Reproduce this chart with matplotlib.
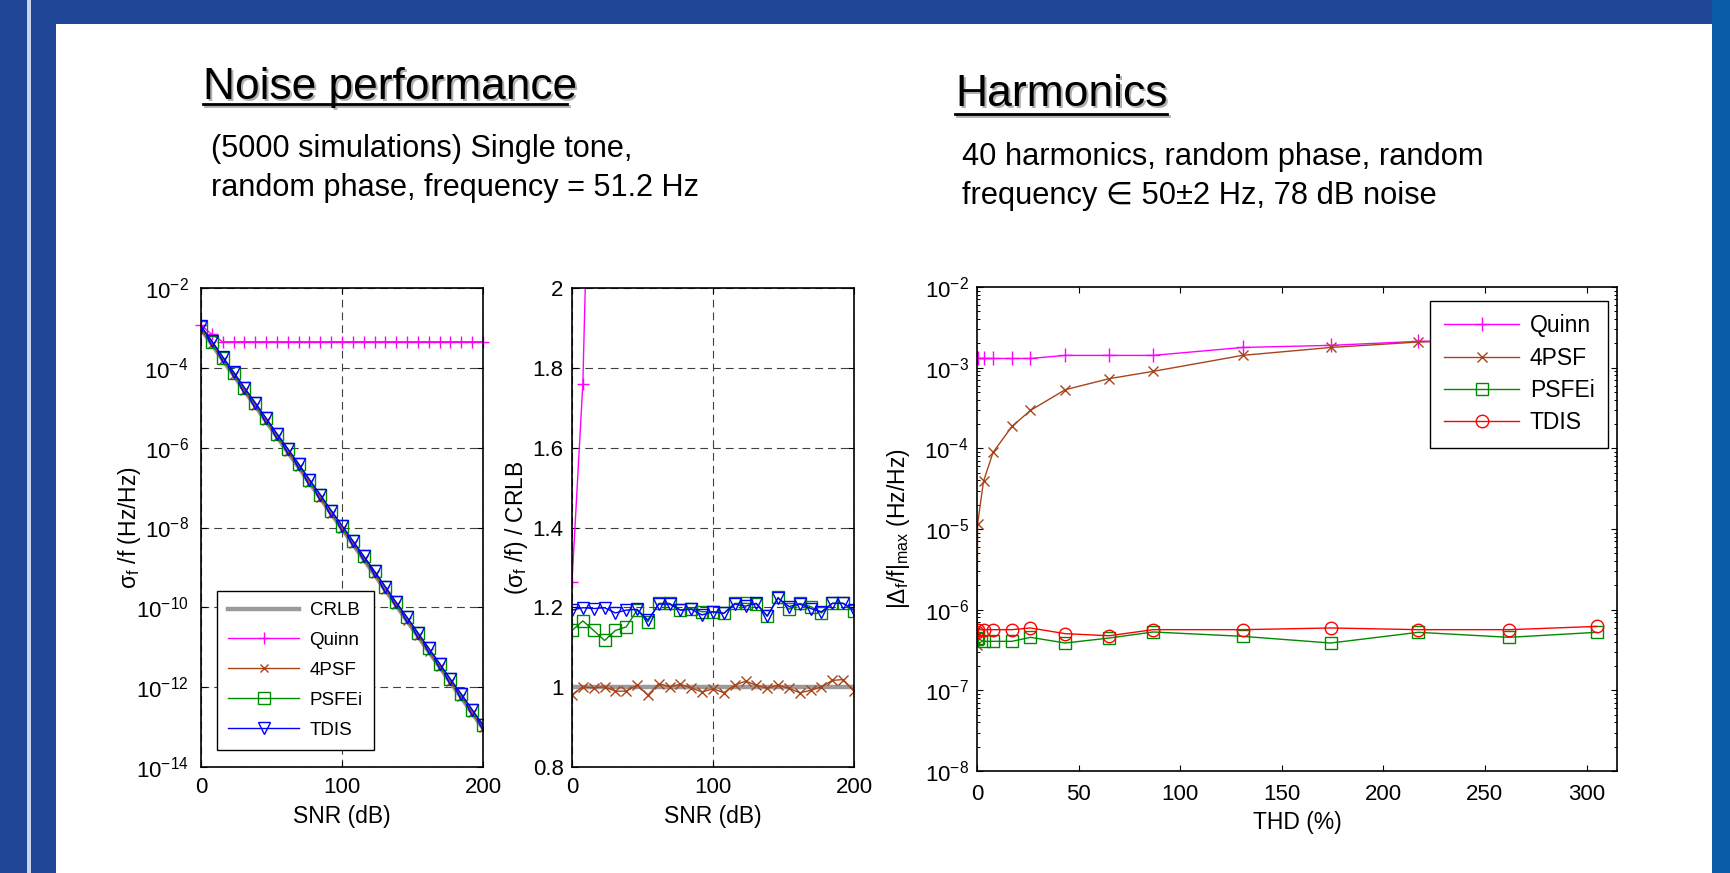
import numpy as np
import matplotlib
matplotlib.use('Agg')
import matplotlib.pyplot as plt
from matplotlib.patches import Rectangle
from matplotlib.lines import Line2D
from matplotlib.ticker import FixedLocator, FuncFormatter, LogLocator, NullFormatter, NullLocator

plt.rcParams['font.family'] = ['Liberation Sans', 'DejaVu Sans']
plt.rcParams['mathtext.fontset'] = 'custom'
plt.rcParams['mathtext.rm'] = 'Liberation Sans'
plt.rcParams['mathtext.it'] = 'Liberation Sans:italic'
plt.rcParams['mathtext.bf'] = 'Liberation Sans:bold'
plt.rcParams['mathtext.sf'] = 'Liberation Sans'

# ---------------- data: noise performance ----------------
snr = [0, 7.69, 15.38, 23.08, 30.77, 38.46, 46.15, 53.85, 61.54, 69.23, 76.92,
       84.62, 92.31, 100, 107.69, 115.38, 123.08, 130.77, 138.46, 146.15,
       153.85, 161.54, 169.23, 176.92, 184.62, 192.31, 200]
crlb_log10 = [-3.03, -3.41, -3.80, -4.18, -4.57, -4.95, -5.34, -5.72, -6.11, -6.49,
              -6.88, -7.26, -7.65, -8.03, -8.41, -8.80, -9.18, -9.57, -9.95, -10.34,
              -10.72, -11.11, -11.49, -11.88, -12.26, -12.65, -13.03]
quinn_noise = [1.18e-3, 6.85e-4, 4.5e-4, 4.5e-4, 4.5e-4, 4.5e-4, 4.5e-4, 4.5e-4, 4.5e-4,
               4.5e-4, 4.5e-4, 4.5e-4, 4.5e-4, 4.5e-4, 4.5e-4, 4.5e-4, 4.5e-4, 4.5e-4,
               4.5e-4, 4.5e-4, 4.5e-4, 4.5e-4, 4.5e-4, 4.5e-4, 4.5e-4, 4.5e-4, 4.5e-4]
ratio_4psf = [0.981, 1.001, 0.998, 1.001, 0.990, 0.990, 1.005, 0.980, 1.009, 1.001,
              1.007, 0.998, 0.988, 0.996, 0.986, 1.005, 1.015, 1.005, 0.997, 1.005,
              0.997, 0.986, 0.992, 1.001, 1.017, 1.019, 0.990]
ratio_psfei = [1.142, 1.166, 1.142, 1.117, 1.142, 1.151, 1.193, 1.164, 1.210, 1.210,
               1.193, 1.197, 1.189, 1.189, 1.185, 1.210, 1.210, 1.208, 1.178, 1.225,
               1.195, 1.210, 1.202, 1.186, 1.210, 1.210, 1.192]
ratio_tdis = [1.193, 1.199, 1.197, 1.199, 1.186, 1.193, 1.195, 1.168, 1.208, 1.208,
              1.193, 1.195, 1.181, 1.189, 1.185, 1.208, 1.203, 1.210, 1.178, 1.223,
              1.202, 1.208, 1.197, 1.189, 1.210, 1.210, 1.193]

# ---------------- data: harmonics ----------------
thd = [0, 0.3, 3.2, 7.9, 17.2, 26.3, 43.4, 65.0, 86.7, 130.7, 174.1, 217.2, 261.9, 305.1]
quinn_h = [1.30e-3, 1.30e-3, 1.30e-3, 1.30e-3, 1.30e-3, 1.30e-3, 1.42e-3, 1.42e-3,
           1.42e-3, 1.78e-3, 1.89e-3, 2.12e-3, 2.2e-3, 2.3e-3]
psf4_h = [3.6e-7, 1.16e-5, 3.9e-5, 8.9e-5, 1.87e-4, 2.95e-4, 5.33e-4, 7.3e-4,
          9.0e-4, 1.42e-3, 1.78e-3, 2.08e-3, 2.2e-3, 2.3e-3]
psfei_h = [4.3e-7, 4.4e-7, 4.05e-7, 4.05e-7, 4.05e-7, 4.54e-7, 3.86e-7, 4.45e-7,
           5.29e-7, 4.67e-7, 3.86e-7, 5.24e-7, 4.54e-7, 5.24e-7]
tdis_h = [5.3e-7, 5.6e-7, 5.65e-7, 5.65e-7, 5.65e-7, 5.93e-7, 5.04e-7, 4.75e-7,
          5.65e-7, 5.65e-7, 5.93e-7, 5.65e-7, 5.65e-7, 6.2e-7]

crlb = 10 ** np.array(crlb_log10)
v4psf = crlb * np.array(ratio_4psf)
vpsfei = crlb * np.array(ratio_psfei)
vtdis = crlb * np.array(ratio_tdis)
quinn_ratio = np.array(quinn_noise) / crlb
crlb_ratio = crlb / crlb

C_MAG = '#ff00ff'
C_BRN = '#a8441a'
C_GRN = '#008a00'
C_BLU = '#0000ff'
C_RED = '#ff0000'
C_GRY = '#9a9a9a'

W, H = 1730, 873
fig = plt.figure(figsize=(W / 100, H / 100), dpi=100, facecolor='#1f4597')

def fx(px):
    return px / W

def fy(py):
    return 1 - py / H

# background decoration
for (x0, y0, w, h, c) in [(fx(27), 0, fx(4), 1, '#c9d3ea'),
                          (fx(1712), 0, fx(18), 1, '#0b5ca8'),
                          (fx(56), 0, fx(1712 - 56), fy(24), 'white')]:
    fig.add_artist(Rectangle((x0, y0), w, h, transform=fig.transFigure,
                             facecolor=c, edgecolor='none', zorder=-10))

# titles
def title(x, ybase, s, size, x1, yline):
    fig.text(fx(x + 2), fy(ybase + 2), s, fontsize=size, color='#b0b0b0', va='baseline', ha='left', zorder=1)
    fig.add_artist(Line2D([fx(x + 2), fx(x1 + 2)], [fy(yline + 2)] * 2, color='#b0b0b0', lw=2.0, zorder=1))
    fig.text(fx(x), fy(ybase), s, fontsize=size, color='k', va='baseline', ha='left', zorder=2)
    fig.add_artist(Line2D([fx(x), fx(x1)], [fy(yline)] * 2, color='k', lw=2.0, zorder=2))

title(203, 99, 'Noise performance', 31.9, 567, 103.5)
title(955, 106, 'Harmonics', 32, 1167, 113.5)

fig.text(fx(211), fy(157), '(5000 simulations) Single tone,', fontsize=22.1, va='baseline')
fig.text(fx(211), fy(196), 'random phase, frequency = 51.2 Hz', fontsize=22.1, va='baseline')
fig.text(fx(962), fy(165.5), '40 harmonics, random phase, random', fontsize=22.2, va='baseline')
fig.text(fx(962), fy(204), 'frequency \u2208 50\u00b12 Hz, 78 dB noise', fontsize=22.2, va='baseline',
         family=['Liberation Sans', 'DejaVu Sans'])

def logfmt(v, pos):
    e = int(round(np.log10(v)))
    return r'$\mathregular{10^{%d}}$' % e

def style(ax, ypad=6):
    ax.tick_params(which='major', direction='in', top=True, right=True, length=4, width=0.8,
                   labelsize=16, colors='k')
    ax.tick_params(axis='x', pad=7)
    ax.tick_params(axis='y', pad=ypad)
    ax.tick_params(which='minor', direction='in', top=True, right=True, length=2.2, width=0.7)
    for sp in ax.spines.values():
        sp.set_linewidth(1.2)
        sp.set_color('k')
    ax.set_facecolor('white')

grid_kw = dict(color='0.25', linestyle=(0, (7, 4.5)), linewidth=0.8)
lw = 1.0

# ---------------- left axes ----------------
ax1 = fig.add_axes([fx(201), fy(767), fx(282), 479 / H])
ax1.set_yscale('log')
l_crlb, = ax1.plot(snr, crlb, color=C_GRY, lw=3.2, label='CRLB')
l_q, = ax1.plot(snr, quinn_noise, color=C_MAG, lw=lw, marker='+', ms=9, mew=1.0, label='Quinn', clip_on=False)
l_4, = ax1.plot(snr, v4psf, color=C_BRN, lw=lw, marker='x', ms=6, mew=1.0, label='4PSF')
l_p, = ax1.plot(snr, vpsfei, color=C_GRN, lw=lw, marker='s', ms=8, mfc='none', mew=1.0, label='PSFEi')
l_t, = ax1.plot(snr, vtdis, color=C_BLU, lw=lw, marker='v', ms=8, mfc='none', mew=1.0, label='TDIS')
ax1.set_xlim(0, 200)
ax1.set_ylim(1e-14, 1e-2)
ax1.xaxis.set_major_locator(FixedLocator([0, 100, 200]))
ax1.yaxis.set_major_locator(FixedLocator([1e-14, 1e-12, 1e-10, 1e-8, 1e-6, 1e-4, 1e-2]))
ax1.yaxis.set_major_formatter(FuncFormatter(logfmt))
ax1.yaxis.set_minor_locator(NullLocator())
style(ax1, ypad=9)
ax1.set_axisbelow(True)
ax1.grid(True, which='major', **grid_kw)
ax1.set_xlabel('SNR (dB)', fontsize=16.5)
ax1.xaxis.set_label_coords(0.5, -0.079)
ax1.set_ylabel(r'$\mathregular{\sigma_{f}}$ /f (Hz/Hz)', fontsize=16.5)
ax1.yaxis.set_label_coords(-0.205, 0.5)
leg1 = ax1.legend(handles=[l_crlb, l_q, l_4, l_p, l_t], loc='upper left',
                  bbox_to_anchor=(fx(216.7), fy(590.7)), bbox_transform=fig.transFigure,
                  fontsize=13.5, frameon=True, fancybox=False, edgecolor='k', framealpha=1,
                  handlelength=3.8, handletextpad=0.55, borderpad=0.6, labelspacing=0.68,
                  borderaxespad=0)
leg1.get_frame().set_linewidth(1.0)

# ---------------- middle axes ----------------
ax2 = fig.add_axes([fx(572), fy(767), fx(282), 479 / H])
ax2.plot(snr, crlb_ratio, color=C_GRY, lw=3.2)
ax2.plot(snr, quinn_ratio, color=C_MAG, lw=lw, marker='+', ms=9, mew=1.0)
ax2.plot(snr, ratio_4psf, color=C_BRN, lw=lw, marker='x', ms=7, mew=1.0)
ax2.plot(snr, ratio_psfei, color=C_GRN, lw=lw, marker='s', ms=8.5, mfc='none', mew=1.0)
ax2.plot(snr, ratio_tdis, color=C_BLU, lw=lw, marker='v', ms=8.5, mfc='none', mew=1.0)
ax2.set_xlim(0, 200)
ax2.set_ylim(0.8, 2)
ax2.xaxis.set_major_locator(FixedLocator([0, 100, 200]))
ax2.yaxis.set_major_locator(FixedLocator([0.8, 1.0, 1.2, 1.4, 1.6, 1.8, 2.0]))
ax2.yaxis.set_major_formatter(FuncFormatter(lambda v, p: '%g' % round(v, 2)))
style(ax2, ypad=6)
ax2.set_axisbelow(True)
ax2.grid(True, which='major', **grid_kw)
ax2.set_xlabel('SNR (dB)', fontsize=16.5)
ax2.xaxis.set_label_coords(0.5, -0.079)
ax2.set_ylabel(r'($\mathregular{\sigma_{f}}$ /f) / CRLB', fontsize=16.5)
ax2.yaxis.set_label_coords(-0.149, 0.5)

# ---------------- right axes ----------------
ax3 = fig.add_axes([fx(977), fy(771), fx(640), 484 / H])
ax3.set_yscale('log')
h_q, = ax3.plot(thd, quinn_h, color=C_MAG, lw=lw, marker='+', ms=10, mew=1.0, label='Quinn')
h_4, = ax3.plot(thd, psf4_h, color=C_BRN, lw=lw, marker='x', ms=7, mew=1.0, label='4PSF')
h_p, = ax3.plot(thd, psfei_h, color=C_GRN, lw=lw, marker='s', ms=8, mfc='none', mew=1.0, label='PSFEi')
h_t, = ax3.plot(thd, tdis_h, color=C_RED, lw=lw, marker='o', ms=9, mfc='none', mew=1.0, label='TDIS')
ax3.set_xlim(0, 315)
ax3.set_ylim(1e-8, 1e-2)
ax3.xaxis.set_major_locator(FixedLocator([0, 50, 100, 150, 200, 250, 300]))
ax3.yaxis.set_major_locator(FixedLocator([1e-8, 1e-7, 1e-6, 1e-5, 1e-4, 1e-3, 1e-2]))
ax3.yaxis.set_major_formatter(FuncFormatter(logfmt))
ax3.yaxis.set_minor_locator(LogLocator(base=10, subs=np.arange(2, 10)))
ax3.yaxis.set_minor_formatter(NullFormatter())
style(ax3, ypad=6)
ax3.tick_params(axis='x', pad=9)
ax3.set_xlabel('THD (%)', fontsize=16.5)
ax3.xaxis.set_label_coords(0.5, -0.083)
ax3.set_ylabel(r'$\mathregular{|\Delta_{f}/f|_{max}}$ (Hz/Hz)', fontsize=16.5)
ax3.yaxis.set_label_coords(-0.102, 0.5)
leg3 = ax3.legend(handles=[h_q, h_4, h_p, h_t], loc='upper left',
                  bbox_to_anchor=(fx(1430), fy(300.7)), bbox_transform=fig.transFigure,
                  fontsize=16.5, frameon=True, fancybox=False, edgecolor='k', framealpha=1,
                  handlelength=3.3, handletextpad=0.45, borderpad=0.6, labelspacing=0.4,
                  borderaxespad=0)
leg3.get_frame().set_linewidth(1.0)

fig.savefig('out.png', dpi=100, facecolor=fig.get_facecolor())
